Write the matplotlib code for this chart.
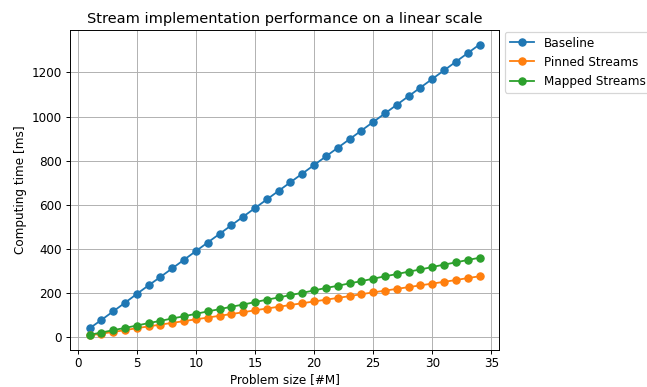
import matplotlib
matplotlib.use('Agg')
import matplotlib.pyplot as plt

# problem size in millions of elements
sizes = list(range(1, 35))

# computing times [ms]
baseline = [40, 78, 117, 156, 196, 235, 273, 312, 351, 390, 429, 468, 507, 546,
            585, 624, 663, 702, 741, 780, 819, 858, 897, 936, 975, 1014, 1053,
            1092, 1131, 1170, 1209, 1248, 1287, 1326]
pinned = [8, 16, 24, 32, 41, 49, 57, 65, 73, 81, 89, 97, 105, 113, 122, 130, 138,
          146, 154, 162, 170, 178, 186, 195, 203, 211, 219, 227, 235, 243, 251,
          259, 268, 276]
mapped = [11, 21, 32, 42, 53, 64, 74, 85, 95, 106, 117, 127, 138, 148, 159, 170,
          180, 191, 201, 212, 223, 233, 244, 254, 265, 276, 286, 297, 307, 318,
          329, 339, 350, 360]

dpi = 86.7  # the original was rendered larger and scaled down
fig = plt.figure(figsize=(647 / dpi, 387 / dpi), dpi=dpi)
ax = fig.add_axes([70 / 647, 1 - 350 / 387, 429 / 647, 320 / 387])

ax.plot(sizes, baseline, marker='o', label='Baseline')
ax.plot(sizes, pinned, marker='o', label='Pinned Streams')
ax.plot(sizes, mapped, marker='o', label='Mapped Streams')

ax.set_title('Stream implementation performance on a linear scale')
ax.set_xlabel('Problem size [#M]', labelpad=2)
ax.set_ylabel('Computing time [ms]')
ax.tick_params(axis='x', pad=2.5)
ax.grid(True)
ax.legend(loc='upper left', bbox_to_anchor=(1, 1.013))

fig.savefig('out.png', dpi=dpi)
